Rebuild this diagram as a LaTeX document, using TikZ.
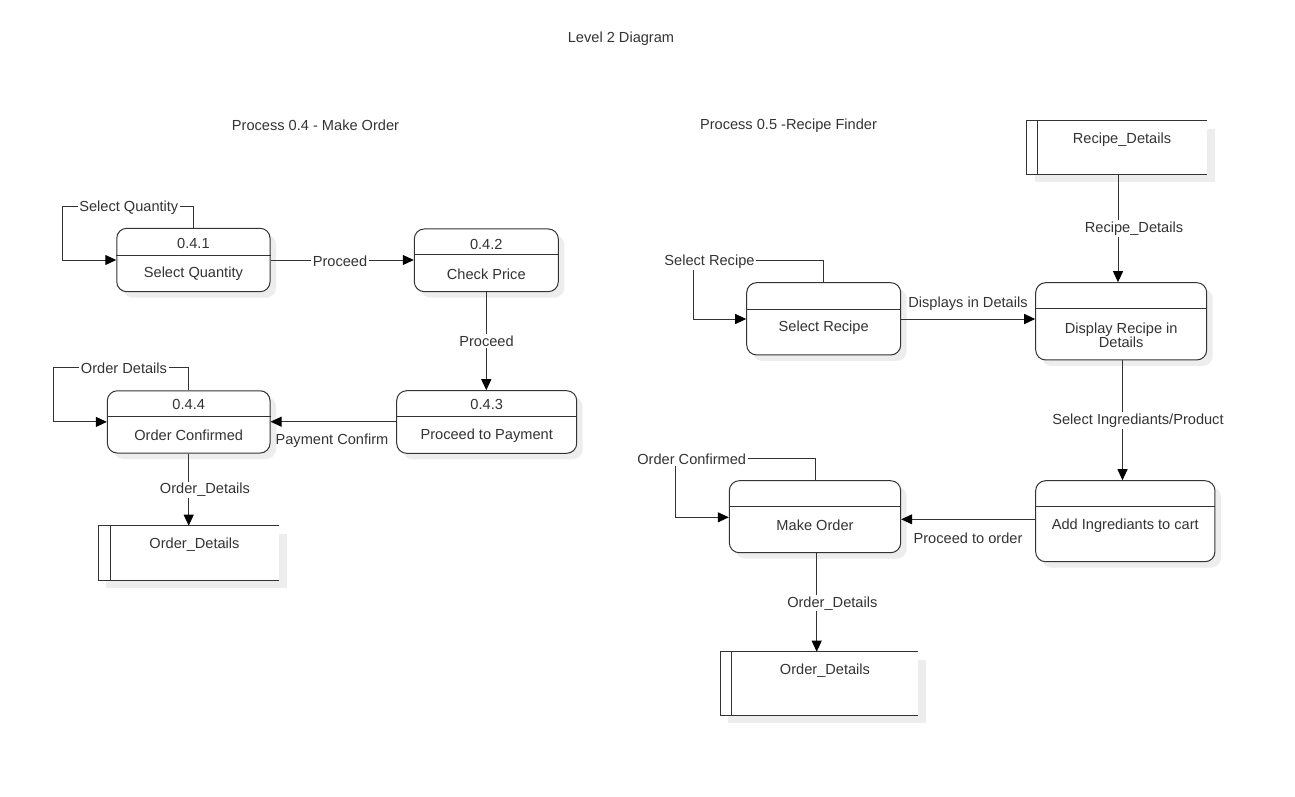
\documentclass[tikz,border=0pt]{standalone}
\usepackage{fontspec}
\setmainfont{Liberation Sans}
\usetikzlibrary{arrows.meta,shadows}
\definecolor{linec}{HTML}{333333}
\definecolor{textc}{HTML}{333333}
\definecolor{shadowc}{HTML}{EDEDED}
\begin{document}
\begin{tikzpicture}[x=1pt,y=-1pt,
  every node/.style={font=\fontsize{14.6}{14.5}\selectfont, text=textc},
  proc/.style={draw=linec, line width=1pt, fill=white, rounded corners=10pt, inner sep=0pt,
    drop shadow={shadow xshift=6pt, shadow yshift=-6pt, fill=shadowc, opacity=1}},
  store/.style={fill=white, inner sep=0pt, outer sep=0pt,
    drop shadow={shadow xshift=8pt, shadow yshift=-8pt, fill=shadowc, opacity=1}},
  line/.style={draw=linec, line width=1pt},
  flow/.style={draw=linec, line width=1pt, -{Triangle[length=11pt,width=10pt,color=black,fill=black]}},
  lbl/.style={fill=white, inner sep=1.5pt, yshift=-1.5pt},
  plain/.style={inner sep=1pt, yshift=-1.5pt}
]
\useasboundingbox (0,0) rectangle (1295,796);

% titles
\node[plain] (title) at (621,37) {Level 2 Diagram};
\node[plain] (t04) at (315.5,124) {Process 0.4 - Make Order};
\node[plain] (t05) at (788.5,124) {Process 0.5 -Recipe Finder};

% ---------- Process 0.4 ----------
\node[proc, minimum width=153.3pt, minimum height=63.4pt] (p1) at (193.4,260) {};
\draw[line] (p1.west |- 0,255) -- (p1.east |- 0,255);
\node[plain] (p1h) at (193.4,241.7) {0.4.1};
\node[plain] (p1t) at (193.4,272.7) {Select Quantity};

\node[proc, minimum width=144pt, minimum height=62.7pt] (p2) at (486.3,260.3) {};
\draw[line] (p2.west |- 0,254.5) -- (p2.east |- 0,254.5);
\node[plain] (p2h) at (486.3,242.5) {0.4.2};
\node[plain] (p2t) at (486.3,272.5) {Check Price};

\node[proc, minimum width=180pt, minimum height=62.6pt] (p3) at (486.7,422) {};
\draw[line] (p3.west |- 0,416.7) -- (p3.east |- 0,416.7);
\node[plain] (p3h) at (486.7,403.3) {0.4.3};
\node[plain] (p3t) at (486.7,434) {Proceed to Payment};

\node[proc, minimum width=162.7pt, minimum height=62.3pt] (p4) at (188.7,421.9) {};
\draw[line] (p4.west |- 0,416.7) -- (p4.east |- 0,416.7);
\node[plain] (p4h) at (188.7,403.3) {0.4.4};
\node[plain] (p4t) at (188.7,433.8) {Order Confirmed};

% store left
\node[store, minimum width=180.7pt, minimum height=54.3pt] (s1) at (188.65,552.85) {};
\draw[line] (s1.north east) -- (s1.north west) -- (s1.south west) -- (s1.south east);
\draw[line] ([xshift=11.7pt]s1.north west) -- ([xshift=11.7pt]s1.south west);
\node[plain] (s1t) at (194.5,543) {Order\_Details};

% connectors 0.4
\coordinate (c1) at (62.7,206.7);
\draw[flow] (p1.north) |- (c1) |- (p1.west);
\node[lbl] (l1) at (128.8,206.7) {Select Quantity};

\draw[flow] (p1.east) -- (p2.west |- p1.east);
\node[lbl] (l2) at (340,260) {Proceed};

\draw[flow] (p2.south) -- (p3.north -| p2.south);
\node[lbl] (l3) at (486.5,339.3) {Proceed};

\draw[flow] (p3.west |- 0,421.7) -- (p4.east |- 0,421.7);
\node[plain] (l4) at (332,439.3) {Payment Confirm};

\coordinate (c4) at (53,367);
\draw[flow] (p4.north) |- (c4) |- (p4.west);
\node[lbl] (l5) at (124,367) {Order Details};

\draw[flow] (p4.south) -- (s1.north -| p4.south);
\node[lbl] (l6) at (205,488.3) {Order\_Details};

% ---------- Process 0.5 ----------
\node[store, minimum width=180pt, minimum height=53.6pt] (s2) at (1116.7,147.5) {};
\draw[line] (s2.north east) -- (s2.north west) -- (s2.south west) -- (s2.south east);
\draw[line] ([xshift=10.6pt]s2.north west) -- ([xshift=10.6pt]s2.south west);
\node[plain] (s2t) at (1122,138.3) {Recipe\_Details};

\node[proc, minimum width=154pt, minimum height=72.3pt] (r1) at (823.7,318.8) {};
\draw[line] (r1.west |- 0,309) -- (r1.east |- 0,309);
\node[plain] (r1t) at (823.7,326) {Select Recipe};

\node[proc, minimum width=171pt, minimum height=77.3pt] (r2) at (1121.2,321.3) {};
\draw[line] (r2.west |- 0,308.3) -- (r2.east |- 0,308.3);
\node[plain, align=center] (r2t) at (1121.2,334) {Display Recipe in\\Details};

\node[proc, minimum width=179.3pt, minimum height=81pt] (r3) at (1125.3,521.2) {};
\draw[line] (r3.west |- 0,506.7) -- (r3.east |- 0,506.7);
\node[plain] (r3t) at (1125.3,524) {Add Ingrediants to cart};

\node[proc, minimum width=171.4pt, minimum height=72pt] (r4) at (815,516.7) {};
\draw[line] (r4.west |- 0,506.7) -- (r4.east |- 0,506.7);
\node[plain] (r4t) at (815,524) {Make Order};

\node[store, minimum width=198.3pt, minimum height=63.3pt] (s3) at (819.15,683.35) {};
\draw[line] (s3.north east) -- (s3.north west) -- (s3.south west) -- (s3.south east);
\draw[line] ([xshift=11.7pt]s3.north west) -- ([xshift=11.7pt]s3.south west);
\node[plain] (s3t) at (825,669.3) {Order\_Details};

% connectors 0.5
\draw[flow] (s2.south -| 1118,0) -- (r2.north -| 1118,0);
\node[lbl] (m1) at (1134,227) {Recipe\_Details};

\coordinate (cr1) at (693.3,260.7);
\draw[flow] (r1.north) |- (cr1) |- (r1.west |- 0,319);
\node[lbl] (m2) at (709.5,260) {Select Recipe};

\draw[flow] (r1.east |- 0,319) -- (r2.west |- 0,319);
\node[plain] (m3) at (968,302) {Displays in Details};

\draw[flow] (r2.south -| 1122.5,0) -- (r3.north -| 1122.5,0);
\node[lbl] (m4) at (1138,419) {Select Ingrediants/Product};

\draw[flow] (r3.west |- 0,519.3) -- (r4.east |- 0,519.3);
\node[plain] (m5) at (968,537) {Proceed to order};

\coordinate (cr4) at (675,458.3);
\draw[flow] (r4.north) |- (cr4) |- (r4.west |- 0,517.3);
\node[lbl] (m6) at (691.7,457.5) {Order Confirmed};

\draw[flow] (r4.south -| 816.7,0) -- (s3.north -| 816.7,0);
\node[lbl] (m7) at (832.3,601.7) {Order\_Details};
\end{tikzpicture}
\end{document}
